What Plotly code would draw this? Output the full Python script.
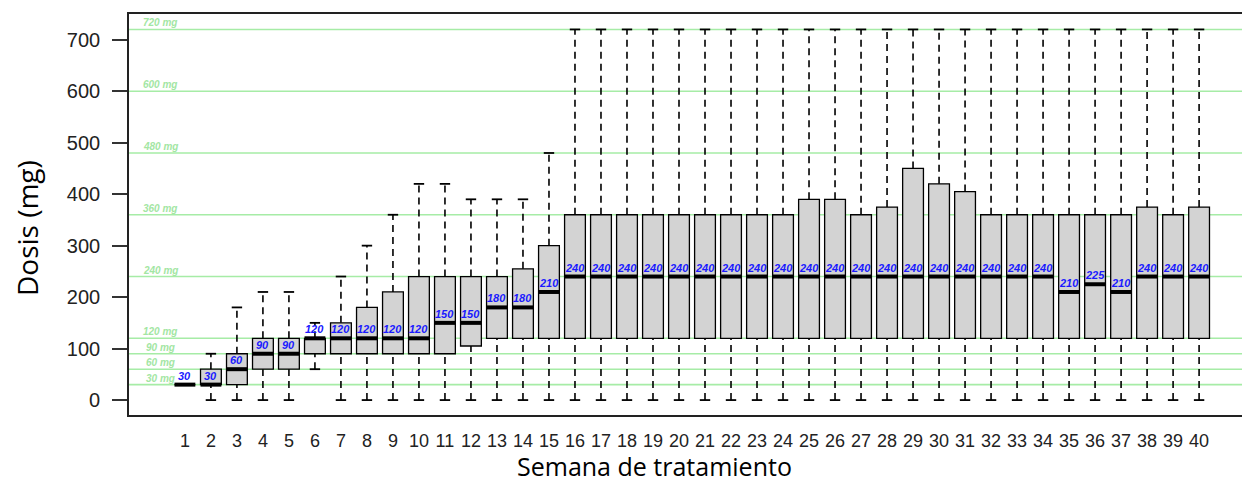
import plotly.graph_objects as go

weeks = list(range(1, 41))
q1 = [30, 30, 30, 60, 60, 90, 90, 90, 90, 90, 90, 105, 120, 120, 120] + [120] * 25
median = [30, 30, 60, 90, 90, 120, 120, 120, 120, 120, 150, 150, 180, 180, 210] + \
         [240] * 19 + [210, 225, 210, 240, 240, 240]
q3 = [30, 60, 90, 120, 120, 120, 150, 180, 210, 240, 240, 240, 240, 255, 300] + \
     [360] * 9 + [390, 390, 360, 375, 450, 420, 405, 360, 360, 360, 360, 360, 360, 375, 360, 375]
wmin = [30, 0, 0, 0, 0, 60] + [0] * 34
wmax = [30, 90, 180, 210, 210, 150, 240, 300, 360, 420, 420, 390, 390, 390, 480] + [720] * 25
ref_lines = [30, 60, 90, 120, 240, 360, 480, 600, 720]
ref_labels = ["30 mg", "60 mg", "90 mg", "120 mg", "240 mg", "360 mg", "480 mg", "600 mg", "720 mg"]
week_labels = [str(w) for w in weeks]
ytick_vals = [0, 100, 200, 300, 400, 500, 600, 700]

BOXW = 0.8
CAPW = 0.2
GREEN = "#a6eca6"
GREEN_TXT = "#a3e6a3"

fig = go.Figure()

# boxes
fig.add_trace(go.Box(
    x=weeks, q1=q1, median=median, q3=q3, lowerfence=q1, upperfence=q3,
    width=BOXW, fillcolor="#d3d3d3", line=dict(color="black", width=1.3),
    whiskerwidth=0, boxpoints=False, showlegend=False, hoverinfo="skip"))

# whiskers (dashed)
wx, wy, cx, cy = [], [], [], []
for w, lo, a, b, hi in zip(weeks, wmin, q1, q3, wmax):
    if hi > b:
        wx += [w, w, None]; wy += [b, hi, None]
        cx += [w - CAPW, w + CAPW, None]; cy += [hi, hi, None]
    if lo < a:
        wx += [w, w, None]; wy += [lo, a, None]
        cx += [w - CAPW, w + CAPW, None]; cy += [lo, lo, None]
fig.add_trace(go.Scatter(x=wx, y=wy, mode="lines",
                         line=dict(color="black", width=1.6, dash="7px,5px"),
                         showlegend=False, hoverinfo="skip"))
fig.add_trace(go.Scatter(x=cx, y=cy, mode="lines",
                         line=dict(color="black", width=1.8),
                         showlegend=False, hoverinfo="skip"))

# medians (thick)
mx, my = [], []
for w, m in zip(weeks, median):
    mx += [w - BOXW / 2, w + BOXW / 2, None]; my += [m, m, None]
fig.add_trace(go.Scatter(x=mx, y=my, mode="lines",
                         line=dict(color="black", width=4),
                         showlegend=False, hoverinfo="skip"))

# reference lines
for v, lab in zip(ref_lines, ref_labels):
    fig.add_shape(type="line", xref="paper", x0=0, x1=1, yref="y", y0=v, y1=v,
                  line=dict(color=GREEN, width=1.6), layer="below")
    fig.add_annotation(x=0.05, y=v, xref="x", yref="y", text="<b><i>" + lab + "</i></b>",
                       showarrow=False, xanchor="center", yanchor="bottom", yshift=-1,
                       font=dict(family="Liberation Sans", size=10, color=GREEN_TXT))

# median labels
for w, m in zip(weeks, median):
    fig.add_annotation(x=w, y=m, xref="x", yref="y", text="<b><i>" + str(m) + "</i></b>",
                       showarrow=False, xanchor="center", yanchor="bottom", yshift=1,
                       font=dict(family="Liberation Sans", size=11, color="#1a1aff"))

# titles
fig.add_annotation(xref="paper", yref="paper", x=(27 - 129) / 1113, y=(415 - 228) / 401,
                   xanchor="center", yanchor="middle",
                   text="Dosis (mg)", textangle=-90, showarrow=False,
                   font=dict(family="Open Sans", size=28, color="black"))
fig.add_annotation(xref="paper", yref="paper", x=(654 - 129) / 1113, y=(415 - 466) / 401,
                   xanchor="center", yanchor="middle",
                   text="Semana de tratamiento", showarrow=False,
                   font=dict(family="Open Sans", size=25, color="black"))

fig.update_layout(
    width=1242, height=483,
    margin=dict(l=129, r=0, t=14, b=68),
    paper_bgcolor="white", plot_bgcolor="white",
    xaxis=dict(range=[-1.15, 41.65], tickvals=weeks, ticktext=week_labels,
               showgrid=False, zeroline=False, showline=True, mirror=True,
               linecolor="#222", linewidth=1.6,
               ticks="outside", ticklen=9, tickcolor="rgba(0,0,0,0)",
               tickfont=dict(family="Liberation Sans", size=18, color="#222")),
    yaxis=dict(range=[-29, 750], tickvals=ytick_vals,
               showgrid=False, zeroline=False, showline=True,
               linecolor="#222", linewidth=1.6,
               ticks="outside", ticklen=15, tickwidth=1.5, tickcolor="#333",
               ticklabelstandoff=8,
               tickfont=dict(family="Liberation Sans", size=20, color="#222")),
)

fig.write_html("out.html", config={"displayModeBar": False},
               post_script="document.body.style.margin='0px';document.body.style.overflow='hidden';")
